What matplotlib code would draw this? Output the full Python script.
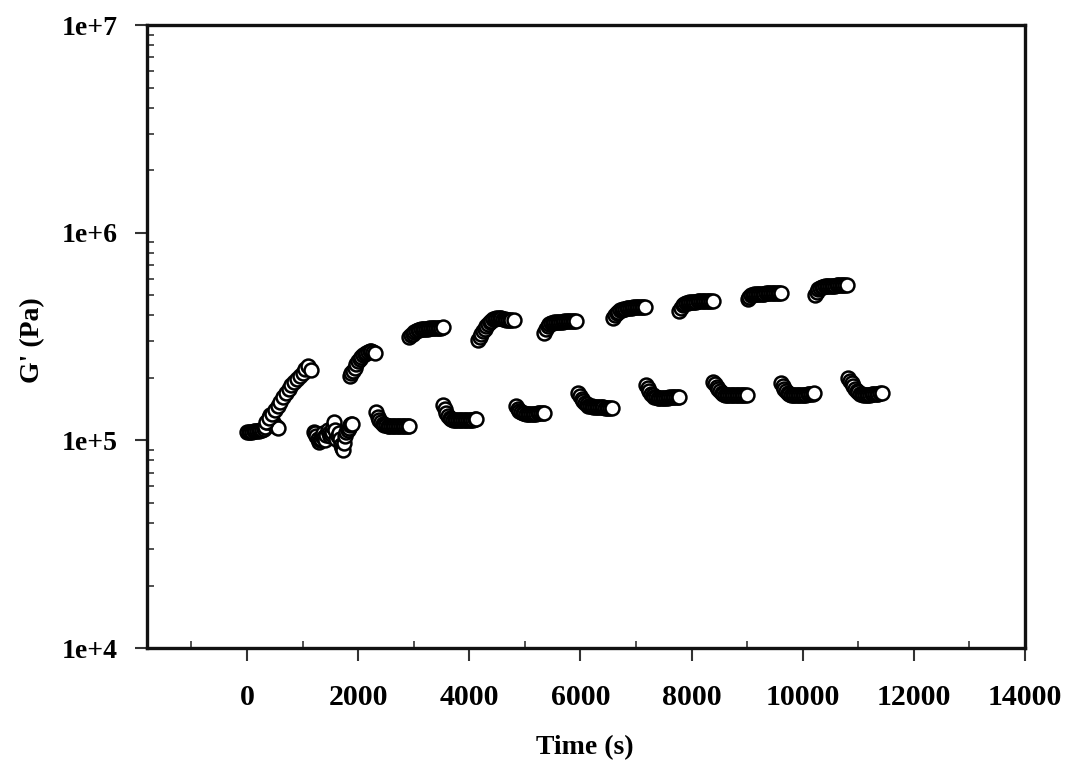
import numpy as np
import matplotlib
matplotlib.use("Agg")
import matplotlib.pyplot as plt
from matplotlib.ticker import FixedLocator, LogLocator, NullFormatter


# G' readings, one list per measuring block (time in s, G' in units of 1e5 Pa)
upper_t = [
    [350, 400, 450, 500, 550, 600, 650, 700, 750, 800, 850, 900, 950, 1000, 1050, 1100, 1150],
    [1850, 1880, 1910, 1940, 1970, 2000, 2030, 2060, 2090, 2120, 2150, 2180, 2210, 2240,
     2270, 2300],
    [2920, 2950, 2980, 3010, 3040, 3070, 3100, 3130, 3160, 3190, 3220, 3250, 3280, 3310,
     3340, 3370, 3400, 3430, 3460, 3490, 3520],
    [4160, 4190, 4220, 4250, 4280, 4310, 4340, 4370, 4400, 4430, 4460, 4490, 4520, 4550,
     4580, 4610, 4640, 4670, 4700, 4730, 4760, 4800],
    [5350, 5380, 5410, 5440, 5470, 5500, 5530, 5560, 5590, 5620, 5650, 5680, 5710, 5740,
     5770, 5800, 5830, 5860, 5890, 5920],
    [6590, 6620, 6650, 6680, 6710, 6740, 6770, 6800, 6830, 6860, 6890, 6920, 6950, 6980,
     7010, 7040, 7070, 7100, 7130, 7160],
    [7780, 7810, 7840, 7870, 7900, 7930, 7960, 7990, 8020, 8050, 8080, 8110, 8140, 8170,
     8200, 8230, 8260, 8290, 8320, 8350, 8380],
    [9010, 9040, 9070, 9100, 9130, 9160, 9190, 9220, 9250, 9280, 9310, 9340, 9370, 9400,
     9430, 9460, 9490, 9520, 9550, 9580, 9610],
    [10220, 10250, 10280, 10310, 10340, 10370, 10400, 10430, 10460, 10490, 10520, 10550,
     10580, 10610, 10640, 10670, 10700, 10730, 10760, 10790],
]
upper_g = [
    [1.22, 1.28, 1.34, 1.40, 1.46, 1.53, 1.61, 1.69, 1.77, 1.85, 1.91, 1.97, 2.03, 2.10,
     2.20, 2.28, 2.17],
    [2.05, 2.10, 2.16, 2.24, 2.32, 2.40, 2.47, 2.52, 2.57, 2.61, 2.64, 2.66, 2.68, 2.68,
     2.66, 2.62],
    [3.15, 3.20, 3.26, 3.32, 3.36, 3.39, 3.41, 3.42, 3.43, 3.44, 3.45, 3.45, 3.46, 3.46,
     3.47, 3.47, 3.48, 3.48, 3.49, 3.49, 3.50],
    [3.05, 3.15, 3.25, 3.35, 3.45, 3.55, 3.63, 3.70, 3.76, 3.82, 3.86, 3.89, 3.90, 3.90,
     3.88, 3.85, 3.83, 3.81, 3.80, 3.80, 3.80, 3.80],
    [3.30, 3.45, 3.55, 3.62, 3.66, 3.68, 3.70, 3.71, 3.72, 3.72, 3.73, 3.73, 3.74, 3.74,
     3.75, 3.75, 3.75, 3.76, 3.76, 3.76],
    [3.88, 4.00, 4.10, 4.17, 4.22, 4.26, 4.29, 4.31, 4.33, 4.34, 4.35, 4.36, 4.37, 4.38,
     4.38, 4.39, 4.39, 4.40, 4.40, 4.40],
    [4.20, 4.35, 4.47, 4.55, 4.59, 4.61, 4.63, 4.64, 4.65, 4.66, 4.66, 4.67, 4.67, 4.68,
     4.68, 4.68, 4.68, 4.69, 4.69, 4.69, 4.69],
    [4.80, 4.92, 5.00, 5.03, 5.05, 5.06, 5.07, 5.08, 5.08, 5.09, 5.09, 5.10, 5.10, 5.10,
     5.10, 5.11, 5.11, 5.11, 5.11, 5.12, 5.12],
    [5.00, 5.20, 5.33, 5.42, 5.47, 5.50, 5.52, 5.53, 5.54, 5.55, 5.55, 5.56, 5.56, 5.57,
     5.57, 5.58, 5.58, 5.58, 5.59, 5.60],
]

lower_t = [
    [0, 30, 60, 90, 120, 150, 180, 210, 240, 270, 300, 330, 360, 390, 420, 450, 480, 510,
     540, 560],
    [1210, 1230, 1250, 1270, 1290, 1310, 1330, 1350, 1370, 1390, 1410, 1430, 1450, 1470,
     1490, 1510, 1530, 1550, 1570, 1590, 1610, 1630, 1650, 1670, 1690, 1710, 1730, 1750,
     1770, 1790, 1810, 1830, 1850, 1870, 1890],
    [2320, 2350, 2380, 2410, 2440, 2470, 2500, 2530, 2560, 2590, 2620, 2650, 2680, 2710,
     2740, 2770, 2800, 2830, 2860, 2890, 2920],
    [3530, 3560, 3590, 3620, 3650, 3680, 3710, 3740, 3770, 3800, 3830, 3860, 3890, 3920,
     3950, 3980, 4010, 4040, 4070, 4100, 4130],
    [4840, 4870, 4900, 4930, 4960, 4990, 5020, 5050, 5080, 5110, 5140, 5170, 5200, 5230,
     5260, 5290, 5320, 5350],
    [5960, 5990, 6020, 6050, 6080, 6110, 6140, 6170, 6200, 6230, 6260, 6290, 6320, 6350,
     6380, 6410, 6440, 6470, 6500, 6530, 6560],
    [7180, 7210, 7240, 7270, 7300, 7330, 7360, 7390, 7420, 7450, 7480, 7510, 7540, 7570,
     7600, 7630, 7660, 7690, 7720, 7750, 7780],
    [8390, 8420, 8450, 8480, 8510, 8540, 8570, 8600, 8630, 8660, 8690, 8720, 8750, 8780,
     8810, 8840, 8870, 8900, 8930, 8960, 8990],
    [9610, 9640, 9670, 9700, 9730, 9760, 9790, 9820, 9850, 9880, 9910, 9940, 9970, 10000,
     10030, 10060, 10090, 10120, 10150, 10180, 10210],
    [10820, 10850, 10880, 10910, 10940, 10970, 11000, 11030, 11060, 11090, 11120, 11150,
     11180, 11210, 11240, 11270, 11300, 11330, 11360, 11390, 11420],
]
lower_g = [
    [1.10, 1.10, 1.10, 1.10, 1.11, 1.11, 1.11, 1.11, 1.12, 1.12, 1.13, 1.16, 1.22, 1.28,
     1.32, 1.25, 1.20, 1.17, 1.16, 1.15],
    [1.10, 1.08, 1.05, 1.01, 0.98, 1.00, 1.02, 1.05, 1.08, 1.04, 1.00, 1.06, 1.12, 1.09,
     1.05, 1.07, 1.10, 1.16, 1.22, 1.12, 1.02, 1.05, 1.08, 1.01, 0.95, 0.92, 0.90, 0.97,
     1.05, 1.10, 1.12, 1.15, 1.18, 1.20, 1.20],
    [1.37, 1.30, 1.25, 1.22, 1.20, 1.19, 1.18, 1.17, 1.17, 1.17, 1.17, 1.17, 1.17, 1.17,
     1.17, 1.17, 1.17, 1.17, 1.17, 1.17, 1.17],
    [1.48, 1.42, 1.36, 1.31, 1.28, 1.27, 1.26, 1.26, 1.25, 1.25, 1.25, 1.25, 1.25, 1.25,
     1.26, 1.26, 1.26, 1.26, 1.26, 1.27, 1.27],
    [1.46, 1.42, 1.39, 1.37, 1.36, 1.35, 1.34, 1.34, 1.34, 1.34, 1.34, 1.34, 1.34, 1.35,
     1.35, 1.35, 1.35, 1.35],
    [1.69, 1.63, 1.58, 1.54, 1.51, 1.49, 1.47, 1.46, 1.46, 1.45, 1.45, 1.44, 1.44, 1.44,
     1.44, 1.44, 1.43, 1.43, 1.43, 1.43, 1.43],
    [1.85, 1.79, 1.73, 1.68, 1.65, 1.62, 1.61, 1.60, 1.60, 1.60, 1.60, 1.60, 1.60, 1.60,
     1.61, 1.61, 1.61, 1.61, 1.62, 1.62, 1.62],
    [1.91, 1.86, 1.81, 1.76, 1.72, 1.69, 1.67, 1.66, 1.66, 1.66, 1.66, 1.66, 1.66, 1.66,
     1.66, 1.66, 1.66, 1.66, 1.66, 1.66, 1.66],
    [1.89, 1.83, 1.77, 1.72, 1.69, 1.67, 1.66, 1.65, 1.65, 1.65, 1.65, 1.65, 1.65, 1.66,
     1.66, 1.66, 1.67, 1.67, 1.68, 1.68, 1.69],
    [2.00, 1.94, 1.88, 1.82, 1.77, 1.73, 1.70, 1.68, 1.67, 1.66, 1.66, 1.66, 1.66, 1.66,
     1.67, 1.67, 1.67, 1.68, 1.68, 1.69, 1.69],
]

x_ticks = [0, 2000, 4000, 6000, 8000, 10000, 12000, 14000]
y_ticks = [1e4, 1e5, 1e6, 1e7]
y_labels = ["1e+4", "1e+5", "1e+6", "1e+7"]

plt.rcParams["font.family"] = ["Liberation Serif", "DejaVu Serif"]
plt.rcParams["font.weight"] = "bold"

fig = plt.figure(figsize=(10.68, 7.63), dpi=100)
ax = fig.add_axes([0.1376, 0.1507, 0.8221, 0.8165])

blocks = list(zip(lower_t, lower_g)) + list(zip(upper_t, upper_g))
for t, g in blocks:
    ax.plot(t, np.array(g) * 1e5, linestyle="none", marker="o", markersize=10,
            markerfacecolor="white", markeredgecolor="black", markeredgewidth=1.8)

ax.set_yscale("log")
ax.set_xlim(-1800, 14000)
ax.set_ylim(1e4, 1e7)

ax.xaxis.set_major_locator(FixedLocator(x_ticks))
ax.xaxis.set_minor_locator(FixedLocator(np.arange(-1000, 14000, 2000)))
ax.set_xticklabels([str(v) for v in x_ticks])
ax.yaxis.set_major_locator(FixedLocator(y_ticks))
ax.yaxis.set_minor_locator(LogLocator(base=10, subs=np.arange(2, 10)))
ax.yaxis.set_minor_formatter(NullFormatter())
ax.set_yticklabels(y_labels)

ax.tick_params(axis="both", which="major", direction="out", length=9, width=1.5,
               labelsize=20, color="#333333")
ax.tick_params(axis="x", which="major", pad=17, labelsize=21.5)
ax.tick_params(axis="y", which="major", pad=12)
ax.tick_params(axis="both", which="minor", direction="in", length=5, width=1.2,
               color="#333333")

for side in ["left", "bottom", "right", "top"]:
    ax.spines[side].set_linewidth(2.4)
    ax.spines[side].set_color("#111111")

ax.set_xlabel("Time (s)", fontsize=20, fontweight="bold")
ax.set_ylabel("G' (Pa)", fontsize=20, fontweight="bold")
ax.xaxis.set_label_coords(0.499, -0.14)
ax.yaxis.set_label_coords(-0.116, 0.494)

fig.savefig("out.png", dpi=100)
